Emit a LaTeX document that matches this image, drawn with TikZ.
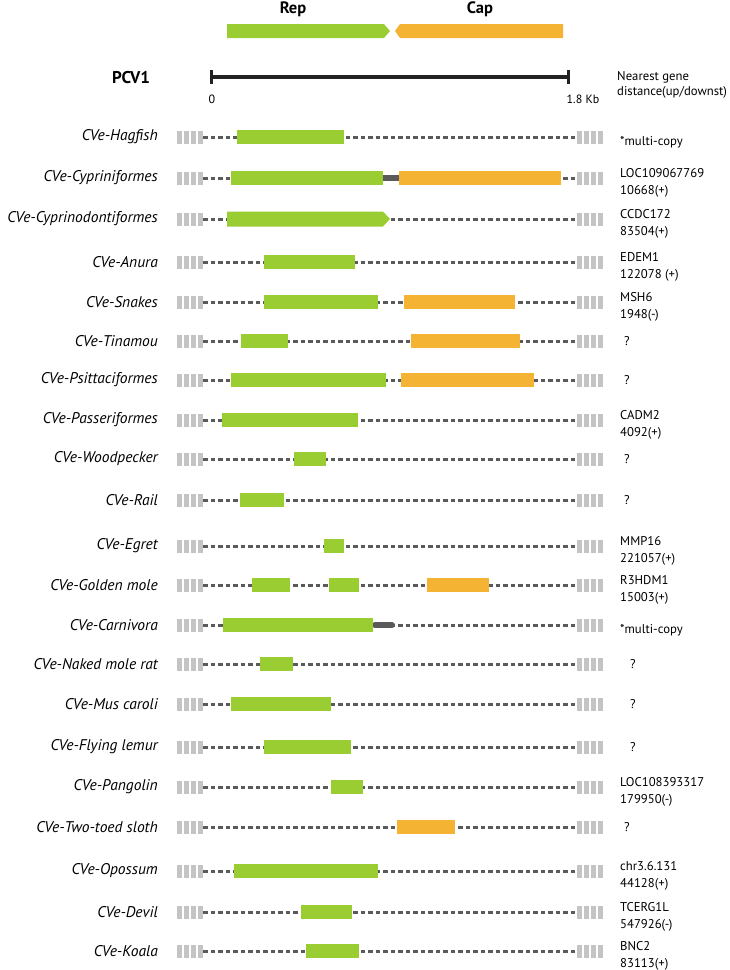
\documentclass[tikz,border=0pt]{standalone}
\usepackage{fontspec}
\setmainfont{PT Sans}
\definecolor{repgreen}{HTML}{9ACD32}
\definecolor{capor}{HTML}{F4B333}
\definecolor{dashgray}{HTML}{5A5A5A}
\definecolor{blockgray}{HTML}{C4C4C4}
\definecolor{scaleblack}{HTML}{222222}
\tikzset{
  backbone/.style={draw=dashgray, line width=3pt, dash pattern=on 4.5pt off 3pt},
  lbl/.style={anchor=east, font=\fontsize{15.5}{17}\selectfont\itshape, inner sep=0pt},
  info/.style={anchor=west, align=left, font=\fontsize{12.7}{16.5}\selectfont, inner sep=0pt},
  title/.style={font=\fontsize{16.5}{18}\selectfont\bfseries, inner sep=0pt},
}
\newcommand\cverow[4]{% id, label, y, info
  \draw[backbone] (203,#3) -- (577,#3);
  \foreach \k in {0,...,3}{
    \fill[blockgray] (177+7*\k,#3-6.5) rectangle ++(5,13);
    \fill[blockgray] (577+7*\k,#3-6.5) rectangle ++(5,13);
  }
  \node[lbl] (l-#1) at (158,#3) {CVe-#2};
  \node[info] (i-#1) at (620,#3+5) {#4};
}
\newcommand\qrow[4]{% id, label, y, x of ?
  \draw[backbone] (203,#3) -- (577,#3);
  \foreach \k in {0,...,3}{
    \fill[blockgray] (177+7*\k,#3-6.5) rectangle ++(5,13);
    \fill[blockgray] (577+7*\k,#3-6.5) rectangle ++(5,13);
  }
  \node[lbl] (l-#1) at (158,#3) {CVe-#2};
  \node[info] (i-#1) at (#4,#3) {?};
}
\newcommand\gbar[3]{\fill[repgreen] (#2,#1-7) rectangle (#3,#1+7);}
\newcommand\obar[3]{\fill[capor] (#2,#1-7) rectangle (#3,#1+7);}
\begin{document}
\begin{tikzpicture}[x=1pt,y=-1pt]
\useasboundingbox (0,0) rectangle (729,970);
% header
\node[title] (rep) at (293,9) {Rep};
\node[title] (cap) at (480,9) {Cap};
\fill[repgreen] (227,24) -- (384,24) -- (390,31) -- (384,38) -- (227,38) -- cycle;
\fill[capor] (395,31) -- (400,24) -- (563,24) -- (563,38) -- (400,38) -- cycle;
\node[title, font=\fontsize{17}{19}\selectfont\bfseries] (pcv) at (131,78) {PCV1};
\coordinate (s0) at (211,77);
\coordinate (s1) at (568,77);
\draw[scaleblack, line width=4pt] (s0) -- (s1);
\draw[scaleblack, line width=3pt] (211,70) -- (211,84);
\draw[scaleblack, line width=3pt] (568,70) -- (568,84);
\node[font=\fontsize{12}{14}\selectfont, inner sep=0pt] (z0) at (212,99) {0};
\node[font=\fontsize{12}{14}\selectfont, inner sep=0pt] (z1) at (583,99) {1.8 Kb};
\node[info, font=\fontsize{12.7}{15}\selectfont] (ng) at (617,85) {Nearest gene\\distance(up/downst)};
% rows
\cverow{hag}{Hagfish}{137}{*multi-copy}
\gbar{137}{237}{344}
\cverow{cyp}{Cypriniformes}{178}{LOC109067769\\10668(+)}
\fill[dashgray] (383,175) rectangle (399,181);
\gbar{178}{231}{383}
\obar{178}{399}{561}
\cverow{cypd}{Cyprinodontiformes}{219}{CCDC172\\83504(+)}
\fill[repgreen] (227,211.5) -- (383,211.5) -- (390,219) -- (383,226.5) -- (227,226.5) -- cycle;
\cverow{anu}{Anura}{262}{EDEM1\\122078 (+)}
\gbar{262}{264}{355}
\cverow{sna}{Snakes}{302}{MSH6\\1948(-)}
\gbar{302}{264}{378}
\obar{302}{404}{515}
\qrow{tin}{Tinamou}{341}{624}
\gbar{341}{241}{288}
\obar{341}{411}{520}
\qrow{psi}{Psittaciformes}{380}{624}
\gbar{380}{231}{386}
\obar{380}{401}{534}
\cverow{pas}{Passeriformes}{420}{CADM2\\4092(+)}
\gbar{420}{222}{358}
\qrow{woo}{Woodpecker}{459}{624}
\gbar{459}{294}{326}
\qrow{rai}{Rail}{500}{624}
\gbar{500}{240}{284}
\cverow{egr}{Egret}{546}{MMP16\\221057(+)}
\gbar{546}{324}{344}
\cverow{gol}{Golden mole}{585}{R3HDM1\\15003(+)}
\gbar{585}{252}{290}
\gbar{585}{329}{359}
\obar{585}{427}{489}
\cverow{car}{Carnivora}{625}{*multi-copy}
\draw[dashgray, line width=6pt, line cap=round] (375,625) -- (392,625);
\gbar{625}{223}{373}
\qrow{nmr}{Naked mole rat}{664}{630}
\gbar{664}{260}{293}
\qrow{mus}{Mus caroli}{704}{630}
\gbar{704}{231}{331}
\qrow{fly}{Flying lemur}{747}{630}
\gbar{747}{264}{351}
\cverow{pan}{Pangolin}{787}{LOC108393317\\179950(-)}
\gbar{787}{331}{363}
\qrow{slo}{Two-toed sloth}{827}{624}
\obar{827}{397}{455}
\cverow{opo}{Opossum}{871}{chr3.6.131\\44128(+)}
\gbar{871}{234}{378}
\cverow{dev}{Devil}{912}{TCERG1L\\547926(-)}
\gbar{912}{301}{352}
\cverow{koa}{Koala}{951}{BNC2\\83113(+)}
\gbar{951}{306}{359}
\end{tikzpicture}
\end{document}
